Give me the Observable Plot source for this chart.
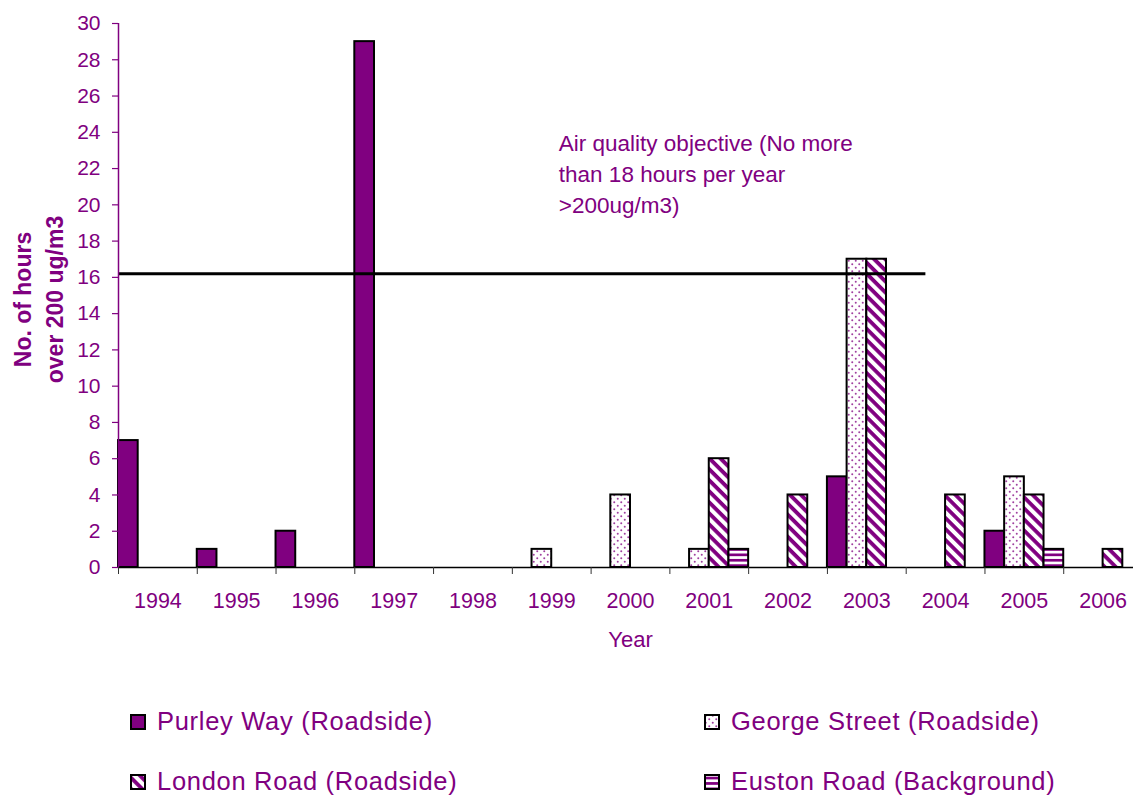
<!DOCTYPE html>
<html>
<head>
<meta charset="utf-8">
<script src="https://cdn.jsdelivr.net/npm/d3@7"></script>
<script src="https://cdn.jsdelivr.net/npm/@observablehq/plot@0.6"></script>
<style>
  html, body { margin: 0; padding: 0; background: #fff; }
  body { width: 1133px; height: 796px; overflow: hidden; font-family: "Liberation Sans", Arial, sans-serif; }
  #chart svg { display: block; }
  #legend { position: relative; height: 106px; }
  .item { position: absolute; display: flex; align-items: center; color: #800080; font-size: 25.5px; letter-spacing: 0.7px; white-space: nowrap; }
  .item svg { margin-right: 11px; display: block; }
</style>
</head>
<body>
<div id="chart"></div>
<div id="legend"></div>
<script>
const purple = "#800080";
const years = [1994, 1995, 1996, 1997, 1998, 1999, 2000, 2001, 2002, 2003, 2004, 2005, 2006];
const seriesNames = ["Purley Way (Roadside)", "George Street (Roadside)", "London Road (Roadside)", "Euston Road (Background)"];
const seriesFills = ["#800080", "url(#dots)", "url(#diag)", "url(#horiz)"];
// values per year, aligned with `years`
const purleyWay   = [7, 1, 2, 29, 0, 0, 0, 0, 0, 5, 0, 2, 0];
const georgeSt    = [0, 0, 0, 0, 0, 1, 4, 1, 0, 17, 0, 5, 0];
const londonRd    = [0, 0, 0, 0, 0, 0, 0, 6, 4, 17, 4, 4, 1];
const eustonRd    = [0, 0, 0, 0, 0, 0, 0, 1, 0, 0, 0, 1, 0];
const yTicks = d3.range(0, 31, 2);
const objectiveValue = 16.2;        // horizontal objective line level as drawn
const objectiveEndYear = 2003.75;   // where the drawn line stops
const annotationText = "Air quality objective (No more\nthan 18 hours per year\n>200ug/m3)";
const annotationYear = 1999.09;
const annotationValue = 24.2;
const yTitle = "No. of hours\nover 200 ug/m3";
const xTitle = "Year";

const allSeries = [purleyWay, georgeSt, londonRd, eustonRd];
const bars = [];
allSeries.forEach((vals, si) => {
  vals.forEach((v, yi) => {
    if (v > 0) bars.push({year: years[yi], series: si, value: v});
  });
});
const slot = 1 / seriesNames.length;
const x1 = d => d.year - 0.5 + d.series * slot;
const x2 = d => d.year - 0.5 + (d.series + 1) * slot;
const boundaries = years.map(y => y - 0.5).concat([years[years.length - 1] + 0.5]);

const W = 1133, H = 690;
const chart = Plot.plot({
  width: W,
  height: H,
  marginLeft: 118,
  marginRight: 0,
  marginTop: 23,
  marginBottom: 123,
  style: {fontFamily: "'Liberation Sans', Arial, sans-serif", fontSize: "21px", background: "white", overflow: "hidden"},
  x: {type: "linear", domain: [years[0] - 0.5, years[years.length - 1] + 0.5], range: [118, 1142]},
  y: {domain: [0, 30]},
  marks: [
    ...seriesNames.map((name, si) =>
      Plot.rectY(bars.filter(d => d.series === si), {
        x1, x2, y1: 0, y2: "value",
        fill: seriesFills[si], stroke: "black", strokeWidth: 2
      })
    ),
    Plot.ruleY([objectiveValue], {x1: years[0] - 0.5, x2: objectiveEndYear, stroke: "black", strokeWidth: 3}),
    Plot.ruleY([0], {stroke: "black", strokeWidth: 1.5}),
    Plot.ruleX([years[0] - 0.5], {stroke: purple, strokeWidth: 1.5}),
    Plot.axisY({ticks: yTicks, tickSize: 6, tickPadding: 12, color: purple, fontSize: 21, label: null, strokeWidth: 1.2}),
    Plot.axisX({ticks: boundaries, tickSize: 7, tickFormat: () => "", stroke: "#333", label: null}),
    Plot.axisX({ticks: years, tickSize: 0, tickPadding: 25, tickFormat: d => String(d), fill: purple, fontSize: 21.5, label: null}),
    Plot.text([xTitle], {x: (years[0] + years[years.length - 1]) / 2, y: 0, text: d => d, dy: 72, fill: purple, fontSize: 22, lineAnchor: "middle"}),
    Plot.text([annotationText], {x: annotationYear, y: annotationValue, text: d => d, textAnchor: "start", lineAnchor: "top", lineHeight: 1.38, fill: purple, fontSize: 22.5}),
    Plot.text([yTitle], {frameAnchor: "left", text: d => d, textAnchor: "middle", lineAnchor: "middle", rotate: -90, dx: -82, dy: 4, lineHeight: 1.4, fontWeight: "bold", fill: purple, fontSize: 23})
  ]
});

const defs = `
<defs>
  <pattern id="dots" patternUnits="userSpaceOnUse" width="7" height="7">
    <rect width="7" height="7" fill="white"/>
    <circle cx="1.75" cy="1.75" r="1" fill="#a040a0"/>
    <circle cx="5.25" cy="5.25" r="1" fill="#a040a0"/>
  </pattern>
  <pattern id="diag" patternUnits="userSpaceOnUse" width="8" height="7.8" patternTransform="rotate(45)">
    <rect width="8" height="7.8" fill="white"/>
    <rect width="8" height="3.8" fill="#800080"/>
  </pattern>
  <pattern id="horiz" patternUnits="userSpaceOnUse" width="6" height="5.4">
    <rect width="6" height="5.4" fill="white"/>
    <rect y="2.7" width="6" height="2.7" fill="#800080"/>
  </pattern>
</defs>`;
chart.insertAdjacentHTML("afterbegin", defs);
document.getElementById("chart").appendChild(chart);

// legend
const legend = document.getElementById("legend");
const positions = [[130, 0], [704, 0], [130, 1], [704, 1]];
const order = [0, 1, 2, 3];
order.forEach((si, k) => {
  const [lx, row] = positions[k];
  const div = document.createElement("div");
  div.className = "item";
  div.style.left = lx + "px";
  div.style.top = (row === 0 ? 17 : 77) + "px";
  div.innerHTML = `<svg width="16" height="16">${defs.replace(/id="/g, 'id="l' + si).replace(/\n/g, "")}<rect x="1" y="1" width="14" height="14" fill="${seriesFills[si].replace('#', si === 0 ? '#' : '#l' + si)}" stroke="black" stroke-width="2"/></svg><span>${seriesNames[si]}</span>`;
  legend.appendChild(div);
});
</script>
</body>
</html>
